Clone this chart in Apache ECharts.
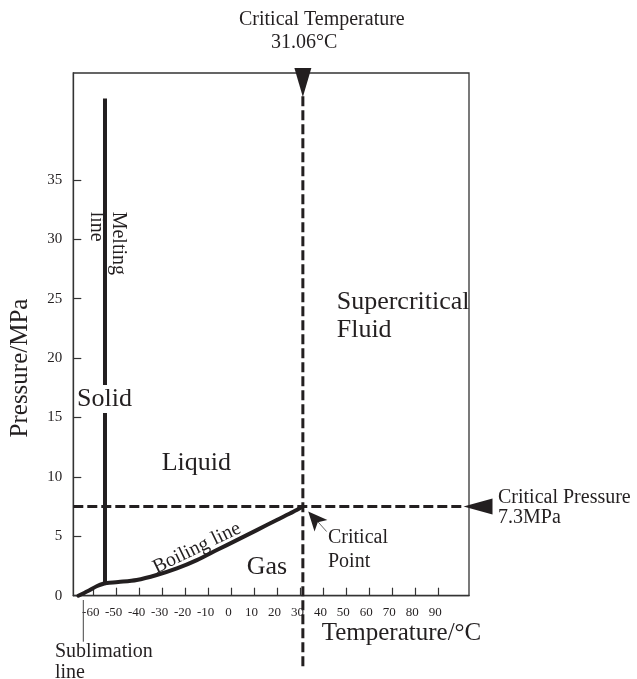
<!DOCTYPE html>
<html>
<head>
<meta charset="utf-8">
<script src="https://cdn.jsdelivr.net/npm/echarts@6/dist/echarts.min.js"></script>
<style>
html, body { margin: 0; padding: 0; background: #fff; }
#chart { width: 637px; height: 679px; }
</style>
</head>
<body>
<div id="chart"></div>
<script>
// CO2 phase diagram
var tempTicks = [-60, -50, -40, -30, -20, -10, 0, 10, 20, 30, 40, 50, 60, 70, 80, 90];
var pressureTicks = [0, 5, 10, 15, 20, 25, 30, 35];

var sublimationLine = [[-66.7, 0], [-62.5, 0.4], [-58.5, 0.82], [-55.1, 1.05]];
var meltingLine = [[-55.1, 1.05], [-55.1, 41.85]];
var boilingLine = [
	[-55.1, 1.05], [-49.3, 1.15], [-41.3, 1.32], [-32.6, 1.74], [-23.8, 2.3],
	[-15.1, 3.0], [-6.4, 3.84], [2.3, 4.68], [11.0, 5.52], [19.7, 6.37],
	[26.9, 7.06], [31.06, 7.5]
];
var criticalPoint = [31.06, 7.5];
var criticalTempLine = [[31.06, 42.05], [31.06, -6.1]];
var criticalPressLine = [[-68.9, 7.5], [100.8, 7.5]];

var ink = '#231f20';
var serif = '"Liberation Serif", "DejaVu Serif", serif';

var myChart = echarts.init(document.getElementById('chart'));

function txt(text, x, y, size, extra) {
	var el = {
		type: 'text',
		x: x,
		y: y,
		z: 50,
		style: {
			text: text,
			fill: ink,
			font: size + 'px ' + serif,
			align: 'left',
			verticalAlign: 'middle'
		}
	};
	if (extra) {
		for (var k in extra) {
			if (k === 'style') {
				for (var s in extra.style) el.style[s] = extra.style[s];
			} else {
				el[k] = extra[k];
			}
		}
	}
	return el;
}

var option = {
	animation: false,
	backgroundColor: '#fff',
	grid: {
		left: 73.3,
		top: 73,
		right: 168,
		bottom: 83.3,
		show: true,
		borderColor: '#333',
		borderWidth: 1.3
	},
	xAxis: {
		type: 'value',
		min: -68.9,
		max: 103.4,
		splitLine: { show: false },
		axisLine: { show: true, onZero: false, lineStyle: { color: '#333', width: 1.3 } },
		axisTick: {
			show: true,
			inside: true,
			length: 8,
			customValues: tempTicks,
			lineStyle: { color: '#333', width: 1.2 }
		},
		axisLabel: {
			customValues: tempTicks,
			margin: 10,
			fontFamily: serif,
			fontSize: 13,
			color: ink,
			padding: [0, 6, 0, 0]
		}
	},
	yAxis: {
		type: 'value',
		min: 0,
		max: 44,
		splitLine: { show: false },
		axisLine: { show: true, onZero: false, lineStyle: { color: '#333', width: 1.3 } },
		axisTick: {
			show: true,
			inside: true,
			length: 8,
			customValues: pressureTicks,
			lineStyle: { color: '#333', width: 1.2 }
		},
		axisLabel: {
			customValues: pressureTicks,
			margin: 11,
			fontFamily: serif,
			fontSize: 15,
			color: ink
		}
	},
	series: [
		{
			name: 'sublimation',
			type: 'line',
			data: sublimationLine,
			showSymbol: false,
			clip: false,
			smooth: 0.3,
			lineStyle: { color: ink, width: 4, cap: 'round', join: 'round' },
			z: 5
		},
		{
			name: 'melting',
			type: 'line',
			data: meltingLine,
			showSymbol: false,
			clip: false,
			lineStyle: { color: ink, width: 4, join: 'round' },
			z: 5
		},
		{
			name: 'boiling',
			type: 'line',
			data: boilingLine,
			showSymbol: false,
			clip: false,
			smooth: 0.3,
			lineStyle: { color: ink, width: 4, join: 'round' },
			z: 5,
			markLine: {
				silent: true,
				symbol: ['none', 'none'],
				label: { show: false },
				lineStyle: { color: '#666', width: 1, type: 'solid' },
				z: 10,
				data: [[
					{ coord: [41.4, 5.4] },
					{ coord: [35.2, 6.75] }
				]]
			},
			markPoint: {
				silent: true,
				label: { show: false },
				itemStyle: { color: ink },
				z: 10,
				data: [{
					coord: [33.4, 7.08],
					symbol: 'arrow',
					symbolRotate: 42,
					symbolSize: [13, 19]
				}]
			}
		},
		{
			name: 'critical temperature',
			type: 'line',
			data: criticalTempLine,
			showSymbol: false,
			clip: false,
			lineStyle: { color: ink, width: 3, type: [10, 4] },
			z: 4,
			markPoint: {
				silent: true,
				label: { show: false },
				itemStyle: { color: ink },
				data: [{
					coord: [criticalPoint[0], 44],
					symbol: 'triangle',
					symbolRotate: 180,
					symbolSize: [17, 29],
					symbolOffset: [0, 9.5]
				}]
			}
		},
		{
			name: 'critical pressure',
			type: 'line',
			data: criticalPressLine,
			showSymbol: false,
			clip: false,
			lineStyle: { color: ink, width: 3, type: [10, 4] },
			z: 4,
			markPoint: {
				silent: true,
				label: { show: false },
				itemStyle: { color: ink },
				data: [{
					coord: [103.4, criticalPoint[1]],
					symbol: 'triangle',
					symbolRotate: 90,
					symbolSize: [16, 29],
					symbolOffset: [9, 0]
				}]
			}
		}
	],
	graphic: [
		txt('Critical Temperature', 239, 20, 20),
		txt('31.06\u00b0C', 271, 43, 20),
		txt('Critical Pressure', 498, 498, 20),
		txt('7.3MPa', 498, 518, 20),
		txt('Critical', 328, 538, 20),
		txt('Point', 328, 562, 20),
		txt('Supercritical', 336.7, 301.7, 26),
		txt('Fluid', 336.7, 330, 26),
		txt('Liquid', 161.7, 463, 26),
		txt('Gas', 246.7, 566.7, 26),
		txt('Solid', 77, 399, 26, { style: { backgroundColor: '#fff', padding: [1, 0, 1, 0] } }),
		txt('Boiling line', 197, 548, 20, { rotation: 0.45, style: { align: 'center' } }),
		txt('Melting', 118.3, 211.7, 20, { rotation: -Math.PI / 2 }),
		txt('line', 96.7, 211.7, 20, { rotation: -Math.PI / 2 }),
		txt('Sublimation', 55, 651.7, 20),
		txt('line', 55, 673, 20),
		txt('Pressure/MPa', 20, 368, 25, { rotation: Math.PI / 2, style: { align: 'center' } }),
		txt('Temperature/\u00b0C', 321.7, 633, 25),
		{
			type: 'line',
			z: 50,
			shape: { x1: 83.3, y1: 600, x2: 83.3, y2: 641.7 },
			style: { stroke: '#444', lineWidth: 1 }
		}
	]
};

myChart.setOption(option);

window.onresize = function() {
	myChart.resize();
};
</script>
</body>
</html>
